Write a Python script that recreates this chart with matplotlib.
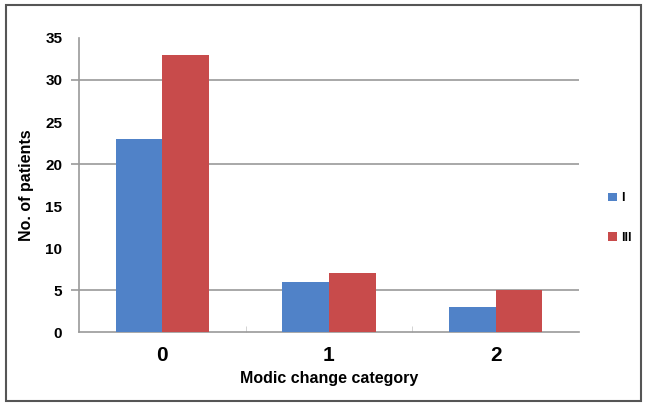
import numpy as np
import matplotlib.pyplot as plt
from matplotlib.patches import Rectangle

plt.rcParams['font.family'] = ['Liberation Sans', 'DejaVu Sans']

categories = ['0', '1', '2']
series_names = ['I', 'III']
values_I = [23, 6, 3]
values_III = [33, 7, 5]
y_ticks = [0, 5, 10, 15, 20, 25, 30, 35]
grid_vals = [5, 20, 30]

blue = '#5082C8'
red = '#C84B4B'
gray = '#9A9A9A'

fig = plt.figure(figsize=(6.47, 4.04), dpi=100)
ax = fig.add_axes([0.122, 0.178, 0.773, 0.728])

x = np.arange(len(categories))
w = 0.28
ax.bar(x - w / 2, values_I, w, color=blue, label=series_names[0], zorder=3)
ax.bar(x + w / 2, values_III, w, color=red, label=series_names[1], zorder=3)

ax.set_xlim(-0.5, len(categories) - 0.5)
ax.set_ylim(0, 35)
ax.yaxis.remove_overlapping_locs = False
ax.set_yticks(y_ticks)
ax.set_yticklabels([str(t) for t in y_ticks], fontsize=11, fontweight='bold')
ax.set_yticks(grid_vals, minor=True)
ax.tick_params(axis='y', which='major', length=0, pad=12)
ax.tick_params(axis='y', which='minor', length=6, color=gray, width=1.2)
ax.grid(which='minor', axis='y', color=gray, linewidth=1.2, zorder=0)

ax.set_xticks(x)
ax.set_xticklabels(categories, fontsize=15, fontweight='bold')
ax.set_xticks(x[:-1] + 0.5, minor=True)
ax.tick_params(axis='x', which='major', length=0, pad=10)
ax.tick_params(axis='x', which='minor', length=4, color='#cccccc', direction='in')

for s in ['top', 'right']:
    ax.spines[s].set_visible(False)
for s in ['left', 'bottom']:
    ax.spines[s].set_color(gray)
    ax.spines[s].set_linewidth(1.2)

ax.set_xlabel('Modic change category', fontsize=11.5, fontweight='bold', labelpad=4)
ax.set_ylabel('No. of patients', fontsize=11.5, fontweight='bold', labelpad=8)

fig.legend(loc='center left', bbox_to_anchor=(0.922, 0.46), frameon=False,
           handlelength=0.7, handleheight=0.7, handletextpad=0.4,
           labelspacing=2.2, prop={'size': 9, 'weight': 'bold'})

fig.add_artist(Rectangle((0.009, 0.007), 0.982, 0.98, transform=fig.transFigure,
                         fill=False, edgecolor='#555555', linewidth=1.5))

fig.savefig('out.png', dpi=100, facecolor='white')
